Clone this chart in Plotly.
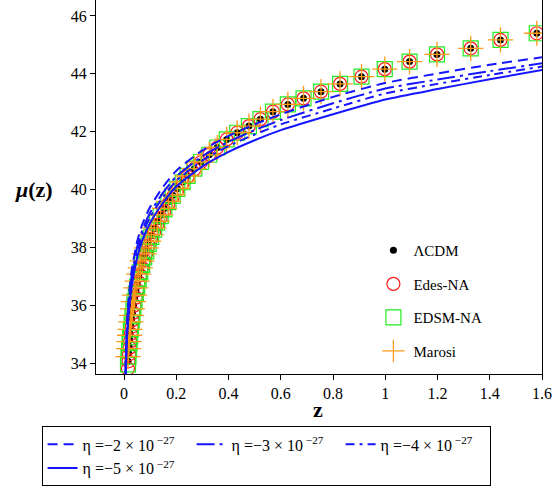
import plotly.graph_objects as go

z_data = [0.015, 0.017, 0.019, 0.021, 0.023, 0.026, 0.029, 0.032, 0.036, 0.040,
          0.045, 0.050, 0.056, 0.062, 0.069, 0.077, 0.085, 0.094, 0.104, 0.115,
          0.127, 0.140, 0.154, 0.170, 0.186, 0.204, 0.224, 0.243, 0.269, 0.294,
          0.326, 0.357, 0.393, 0.433, 0.478, 0.522, 0.570, 0.627, 0.687, 0.754,
          0.827, 0.909, 0.998, 1.093, 1.198, 1.327, 1.441, 1.580]
mu_lcdm = [34.06, 34.34, 34.58, 34.81, 35.01, 35.28, 35.52, 35.74, 36.00, 36.24,
           36.50, 36.74, 36.99, 37.22, 37.47, 37.72, 37.94, 38.18, 38.41, 38.65,
           38.88, 39.11, 39.34, 39.58, 39.80, 40.03, 40.26, 40.47, 40.72, 40.95,
           41.20, 41.45, 41.73, 41.96, 42.19, 42.43, 42.69, 42.94, 43.15, 43.38,
           43.65, 43.90, 44.16, 44.42, 44.67, 44.88, 45.17, 45.40]
mu_edes = [33.80, 34.06, 34.30, 34.53, 34.74, 35.01, 35.25, 35.48, 35.74, 35.99,
           36.26, 36.52, 36.79, 37.03, 37.29, 37.56, 37.79, 38.05, 38.29, 38.54,
           38.78, 39.02, 39.26, 39.51, 39.74, 39.98, 40.22, 40.44, 40.70, 40.94,
           41.20, 41.45, 41.73, 41.96, 42.19, 42.43, 42.69, 42.94, 43.15, 43.38,
           43.65, 43.90, 44.16, 44.42, 44.67, 44.88, 45.17, 45.40]
mu_edsm = [33.95, 34.22, 34.46, 34.69, 34.89, 35.16, 35.40, 35.62, 35.89, 36.13,
           36.40, 36.64, 36.90, 37.14, 37.39, 37.65, 37.87, 38.12, 38.36, 38.61,
           38.85, 39.08, 39.31, 39.56, 39.78, 40.02, 40.25, 40.47, 40.72, 40.95,
           41.20, 41.45, 41.73, 41.96, 42.19, 42.43, 42.69, 42.94, 43.15, 43.38,
           43.65, 43.90, 44.16, 44.42, 44.67, 44.88, 45.17, 45.40]
mu_marosi = [34.22, 34.50, 34.74, 34.96, 35.16, 35.42, 35.65, 35.87, 36.12, 36.35,
             36.60, 36.83, 37.07, 37.29, 37.53, 37.77, 37.98, 38.21, 38.44, 38.67,
             38.90, 39.12, 39.35, 39.59, 39.81, 40.04, 40.26, 40.47, 40.72, 40.95,
             41.20, 41.45, 41.73, 41.96, 42.19, 42.43, 42.69, 42.94, 43.15, 43.38,
             43.65, 43.90, 44.16, 44.42, 44.67, 44.88, 45.17, 45.40]

# ---- eta curves ----
z_eta = [0.002, 0.004, 0.006, 0.01, 0.015, 0.02, 0.03, 0.05, 0.07, 0.1, 0.15,
         0.2, 0.3, 0.4, 0.5, 0.6, 0.8, 1.0, 1.2, 1.4, 1.6]
mu_eta2 = [31.5, 33.0, 34.0, 35.2, 35.95, 36.5, 37.25, 38.2, 38.8, 39.4, 40.1,
           40.65, 41.35, 41.85, 42.25, 42.6, 43.2, 43.68, 44.01, 44.31, 44.57]
mu_eta3 = [31.3, 32.8, 33.8, 35.0, 35.75, 36.3, 37.05, 38.0, 38.6, 39.2, 39.9,
           40.45, 41.15, 41.65, 42.05, 42.4, 42.98, 43.49, 43.80, 44.09, 44.36]
mu_eta4 = [31.15, 32.65, 33.65, 34.85, 35.6, 36.15, 36.9, 37.85, 38.45, 39.05, 39.75,
           40.3, 41.0, 41.5, 41.9, 42.25, 42.8, 43.32, 43.65, 43.96, 44.25]
mu_eta5 = [30.95, 32.45, 33.45, 34.65, 35.4, 35.95, 36.7, 37.65, 38.25, 38.85, 39.55,
           40.1, 40.8, 41.3, 41.7, 42.05, 42.6, 43.11, 43.47, 43.81, 44.13]

eta_labels = ["η =−2 × 10<sup> −27</sup>", "η =−3 × 10<sup> −27</sup>",
              "η =−4 × 10<sup> −27</sup>", "η =−5 × 10<sup> −27</sup>"]

SERIF = "Liberation Serif"
BLUE = "#1515ff"

fig = go.Figure()

fig.add_trace(go.Scatter(x=z_data, y=mu_lcdm, mode="markers", name="ΛCDM",
                         legendgroup="a",
                         marker=dict(symbol="circle", size=7, color="black")))
fig.add_trace(go.Scatter(x=z_data, y=mu_edes, mode="markers", name="Edes-NA",
                         legendgroup="b",
                         marker=dict(symbol="circle-open", size=13, color="#ff1a1a",
                                     line=dict(width=1.2, color="#ff1a1a"))))
fig.add_trace(go.Scatter(x=z_data, y=mu_edsm, mode="markers", name="EDSM-NA",
                         legendgroup="c",
                         marker=dict(symbol="square-open", size=15, color="#22ee22",
                                     line=dict(width=1.2, color="#22ee22"))))
fig.add_trace(go.Scatter(x=z_data, y=mu_marosi, mode="markers", name="Marosi",
                         legendgroup="d",
                         marker=dict(symbol="cross-thin-open", size=18, color="#ff9a1a",
                                     line=dict(width=1.3, color="#ff9a1a"))))

dashes = ["10px,6px", "18px,5px,3px,5px", "9px,5px,3px,5px", "solid"]
for mu, lab, d in zip([mu_eta2, mu_eta3, mu_eta4, mu_eta5], eta_labels, dashes):
    fig.add_trace(go.Scatter(x=z_eta, y=mu, mode="lines", name=lab, legend="legend2",
                             line=dict(color=BLUE, width=2, dash=d, shape="spline",
                                       smoothing=0.6)))

fig.update_layout(
    width=552, height=489,
    margin=dict(l=96, r=6, t=0, b=115),
    paper_bgcolor="white", plot_bgcolor="white",
    font=dict(family=SERIF, size=14, color="black"),
    showlegend=True,
    legend=dict(x=0.622, y=0.374, xanchor="left", yanchor="top",
                bgcolor="rgba(0,0,0,0)", borderwidth=0,
                tracegroupgap=11, font=dict(family=SERIF, size=15),
                itemsizing="trace"),
    legend2=dict(orientation="h", x=-0.122, y=-0.14, xanchor="left", yanchor="top",
                 bgcolor="white", bordercolor="black", borderwidth=1,
                 entrywidth=104, font=dict(family=SERIF, size=16)),
    xaxis=dict(range=[-0.1075, 1.6], tickvals=[0, 0.2, 0.4, 0.6, 0.8, 1, 1.2, 1.4, 1.6],
               ticktext=["0", "0.2", "0.4", "0.6", "0.8", "1", "1.2", "1.4", "1.6"],
               ticklabeloverflow="allow",
               showgrid=False, zeroline=False, showline=True, linecolor="black",
               linewidth=1, ticks="outside", ticklen=5, tickcolor="black",
               tickfont=dict(family=SERIF, size=16)),
    yaxis=dict(range=[33.62, 46.55], tickvals=[34, 36, 38, 40, 42, 44, 46],
               showgrid=False, zeroline=False, showline=True, linecolor="black",
               linewidth=1, mirror=True, ticks="outside", ticklen=5, tickcolor="black",
               tickfont=dict(family=SERIF, size=16)),
    annotations=[
        dict(text="<b><i>μ</i>(z)</b>", xref="paper", yref="paper", x=-0.14, y=0.492,
             xanchor="center", yanchor="middle",
             showarrow=False, font=dict(family=SERIF, size=22)),
        dict(text="<b>z</b>", xref="paper", yref="paper", x=0.498, y=-0.096,
             xanchor="center", yanchor="middle",
             showarrow=False, font=dict(family=SERIF, size=22)),
    ],
)

fig.write_html("out.html")
